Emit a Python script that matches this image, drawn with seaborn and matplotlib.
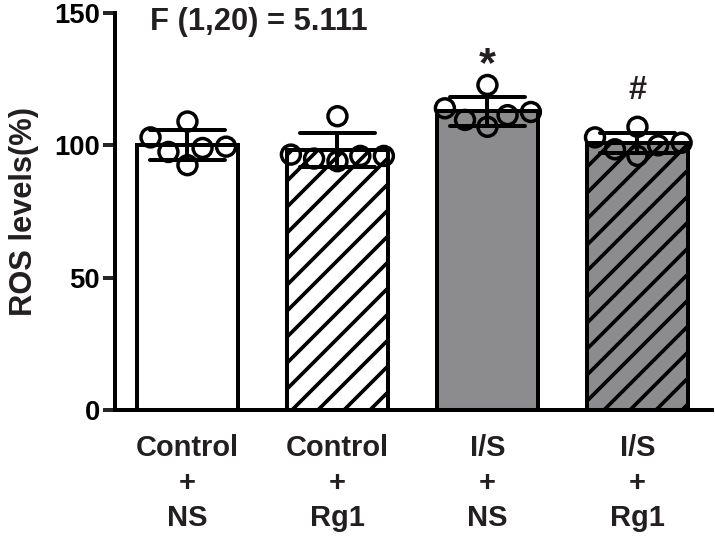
import pandas as pd
import matplotlib
matplotlib.use("Agg")
import matplotlib.pyplot as plt
from matplotlib.collections import PathCollection
import seaborn as sns

# group labels and individual ROS values (% of control), n = 6 per group
groups = ["Control\n+\nNS", "Control\n+\nRg1", "I/S\n+\nNS", "I/S\n+\nRg1"]
ctrl_ns = [109.0, 99.5, 92.5, 97.5, 103.0, 99.0]
ctrl_rg1 = [111.0, 96.0, 95.0, 94.0, 96.0, 96.5]
is_ns = [122.8, 114.0, 111.4, 107.0, 109.6, 112.6]
is_rg1 = [107.0, 103.0, 100.0, 96.0, 98.5, 101.0]
bar_colors = ["white", "white", "#8c8c8e", "#8c8c8e"]
bar_hatches = ["", "/", "", "/"]
sig_marks = ["", "", "*", "#"]
f_text = "F (1,20) = 5.111"
y_ticks = [0, 50, 100, 150]

DPI = 78
TXT = "#231f20"

df = pd.DataFrame({
    "group": [g for g, vals in zip(groups, [ctrl_ns, ctrl_rg1, is_ns, is_rg1]) for _ in vals],
    "ros": ctrl_ns + ctrl_rg1 + is_ns + is_rg1,
})

sns.set_style("ticks")
plt.rcParams["font.family"] = ["Liberation Sans", "DejaVu Sans"]
plt.rcParams["font.weight"] = "bold"
plt.rcParams["hatch.linewidth"] = 3.4

fig = plt.figure(figsize=(715 / DPI, 539 / DPI), dpi=DPI)
ax = fig.add_axes([115 / 715, 129 / 539, 597 / 715, 397 / 539])

sns.barplot(data=df, x="group", y="ros", hue="group", palette=bar_colors,
            order=groups, hue_order=groups, legend=False, width=0.67,
            errorbar="sd", capsize=0.5, edgecolor="black", linewidth=3.7,
            err_kws={"color": "black", "linewidth": 3.7}, ax=ax)
for bar, h in zip(ax.patches, bar_hatches):
    bar.set_hatch(h)
    bar.set_zorder(1)
for line in ax.lines:
    line.set_zorder(5)

sns.swarmplot(data=df, x="group", y="ros", order=groups, size=17.5,
              color="black", zorder=4, ax=ax)
for coll in ax.collections:
    if isinstance(coll, PathCollection):
        coll.set_facecolor("none")
        coll.set_edgecolor("black")
        coll.set_linewidth(3.2)

# significance marks above the error bars
stats = df.groupby("group", sort=False)["ros"].agg(["mean", "std"])
mark_size = {"*": 40, "#": 30}
mark_off = {"*": 12, "#": 16}
for i, (g, m) in enumerate(zip(groups, sig_marks)):
    if m:
        top = stats.loc[g, "mean"] + stats.loc[g, "std"]
        ax.text(i, top + mark_off[m], m, ha="center", va="center",
                fontsize=mark_size[m], color=TXT, fontweight="bold")

ax.text(-0.25, 146.6, f_text, ha="left", va="center", fontsize=28.5,
        color=TXT, fontweight="bold")

ax.set_ylim(0, 150)
ax.set_xlim(-0.483, 3.497)
ax.set_yticks(y_ticks)
ax.set_xlabel("")
ax.set_ylabel("ROS levels(%)", fontsize=28.5, color=TXT, fontweight="bold",
              labelpad=14)
ax.tick_params(axis="y", length=11, width=3.7, labelsize=25.4, pad=3,
               labelcolor="black")
ax.tick_params(axis="x", length=0, labelsize=26.8, pad=22, labelcolor=TXT)
for lab in ax.get_xticklabels():
    lab.set_fontweight("bold")
    lab.set_linespacing(1.32)
for lab in ax.get_yticklabels():
    lab.set_fontweight("bold")
for side in ["top", "right"]:
    ax.spines[side].set_visible(False)
for side in ["left", "bottom"]:
    ax.spines[side].set_linewidth(3.7)
    ax.spines[side].set_color("black")

fig.savefig("out.png", dpi=DPI)
